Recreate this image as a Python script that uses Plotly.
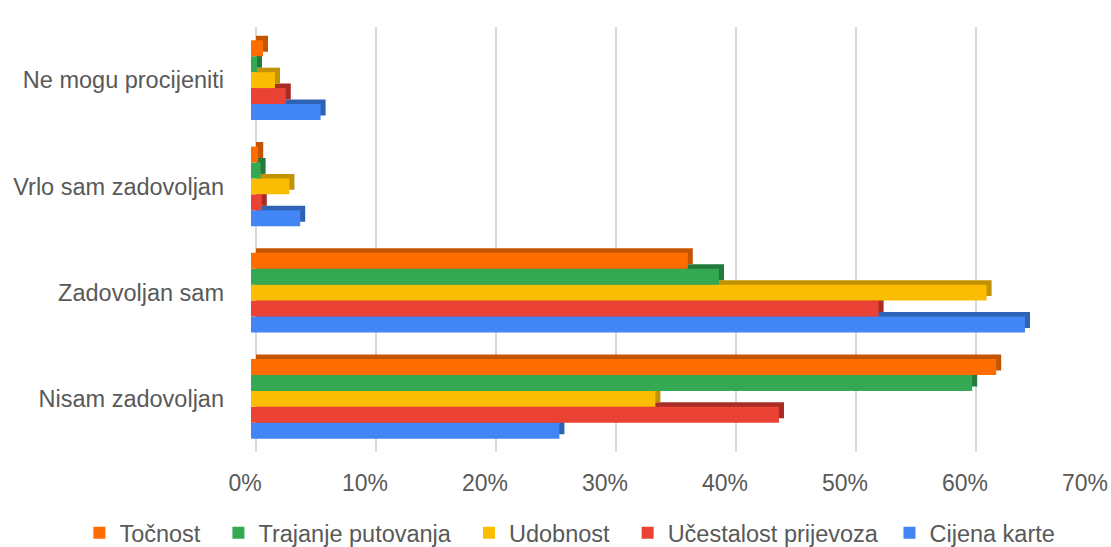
import plotly.graph_objects as go

categories = ["Nisam zadovoljan", "Zadovoljan sam", "Vrlo sam zadovoljan", "Ne mogu procijeniti"]

series_names = ["Točnost", "Trajanje putovanja", "Udobnost", "Učestalost prijevoza", "Cijena karte"]
tocnost = [0.621, 0.364, 0.006, 0.010]
trajanje = [0.601, 0.390, 0.008, 0.005]
udobnost = [0.337, 0.613, 0.032, 0.020]
ucestalost = [0.440, 0.523, 0.009, 0.029]
cijena = [0.257, 0.645, 0.041, 0.058]

tick_vals = [0, 0.1, 0.2, 0.3, 0.4, 0.5, 0.6, 0.7]
tick_text = ["0%", "10%", "20%", "30%", "40%", "50%", "60%", "70%"]

values = {
    "Točnost": tocnost,
    "Trajanje putovanja": trajanje,
    "Udobnost": udobnost,
    "Učestalost prijevoza": ucestalost,
    "Cijena karte": cijena,
}
colors = {
    "Točnost": "#FF6D01",
    "Trajanje putovanja": "#34A853",
    "Udobnost": "#FBBC04",
    "Učestalost prijevoza": "#EA4335",
    "Cijena karte": "#4285F4",
}
dark = {
    "Točnost": "#C55400",
    "Trajanje putovanja": "#237A3B",
    "Udobnost": "#C29200",
    "Učestalost prijevoza": "#A82B24",
    "Cijena karte": "#2D62B5",
}
# extra legend spacing (non-breaking spaces) to match the original entry spacing
legend_pad = {
    "Točnost": 2,
    "Trajanje putovanja": 2,
    "Udobnost": 2,
    "Učestalost prijevoza": 1,
    "Cijena karte": 0,
}

# geometry of the pseudo-3D depth
PLOT_W = 840.0
X_MAX = 0.70001
PX_PER_UNIT = PLOT_W / X_MAX
DEPTH_X_PX = 5.0
DEPTH_Y_PX = 4.5
N_CAT = len(categories)
PLOT_H = 425.0
PX_PER_CAT = PLOT_H / N_CAT
dx = DEPTH_X_PX / PX_PER_UNIT
dy = DEPTH_Y_PX / PX_PER_CAT

fig = go.Figure()
# back (depth) faces on the base axes
for name in reversed(series_names):
    fig.add_trace(go.Bar(
        y=categories, x=values[name], orientation="h", name=name,
        marker=dict(color=dark[name], line=dict(width=0)),
        showlegend=False, hoverinfo="skip",
        xaxis="x", yaxis="y",
    ))
# front faces on the overlaying axes
for name in reversed(series_names):
    fig.add_trace(go.Bar(
        y=categories, x=values[name], orientation="h",
        name=name + "\u00a0" * legend_pad[name],
        marker=dict(color=colors[name], line=dict(width=0)),
        xaxis="x2", yaxis="y2",
    ))

font_family = "Liberation Sans, Arial, sans-serif"
gray = "#595959"

fig.update_layout(
    width=1111,
    height=547,
    barmode="group",
    bargap=0.25,
    bargroupgap=0,
    plot_bgcolor="white",
    paper_bgcolor="white",
    margin=dict(l=251, r=20, t=27, b=95, autoexpand=False),
    font=dict(family=font_family, size=23.5, color=gray),
    legend=dict(
        orientation="h",
        traceorder="reversed",
        x=-0.2043,
        xanchor="left",
        y=-0.1386,
        yanchor="top",
        font=dict(family=font_family, size=23.5, color=gray),
        itemwidth=30,
    ),
    xaxis=dict(
        range=[-dx, X_MAX - dx],
        tickvals=tick_vals,
        showticklabels=False,
        showgrid=True, gridcolor="#D9D9D9", gridwidth=2,
        zeroline=False, showline=False, ticks="",
    ),
    yaxis=dict(
        type="category",
        categoryarray=categories,
        range=[-0.5 - dy, N_CAT - 0.5 - dy],
        showticklabels=False, showgrid=False, showline=False,
        zeroline=False, ticks="",
    ),
    xaxis2=dict(
        overlaying="x", anchor="y2", side="bottom",
        range=[0, X_MAX],
        tickvals=tick_vals, ticktext=tick_text,
        showgrid=False, zeroline=False, showline=False, ticks="",
        ticklabelstandoff=15, ticklabelshift=-6,
        tickfont=dict(family=font_family, size=23, color=gray),
    ),
    yaxis2=dict(
        overlaying="y", anchor="x2", side="left",
        type="category",
        categoryarray=categories,
        range=[-0.5, N_CAT - 0.5],
        showgrid=False, showline=False, zeroline=False, ticks="",
        ticklabelstandoff=26,
        tickfont=dict(family=font_family, size=23.5, color=gray),
    ),
)

fig.write_html("out.html")
